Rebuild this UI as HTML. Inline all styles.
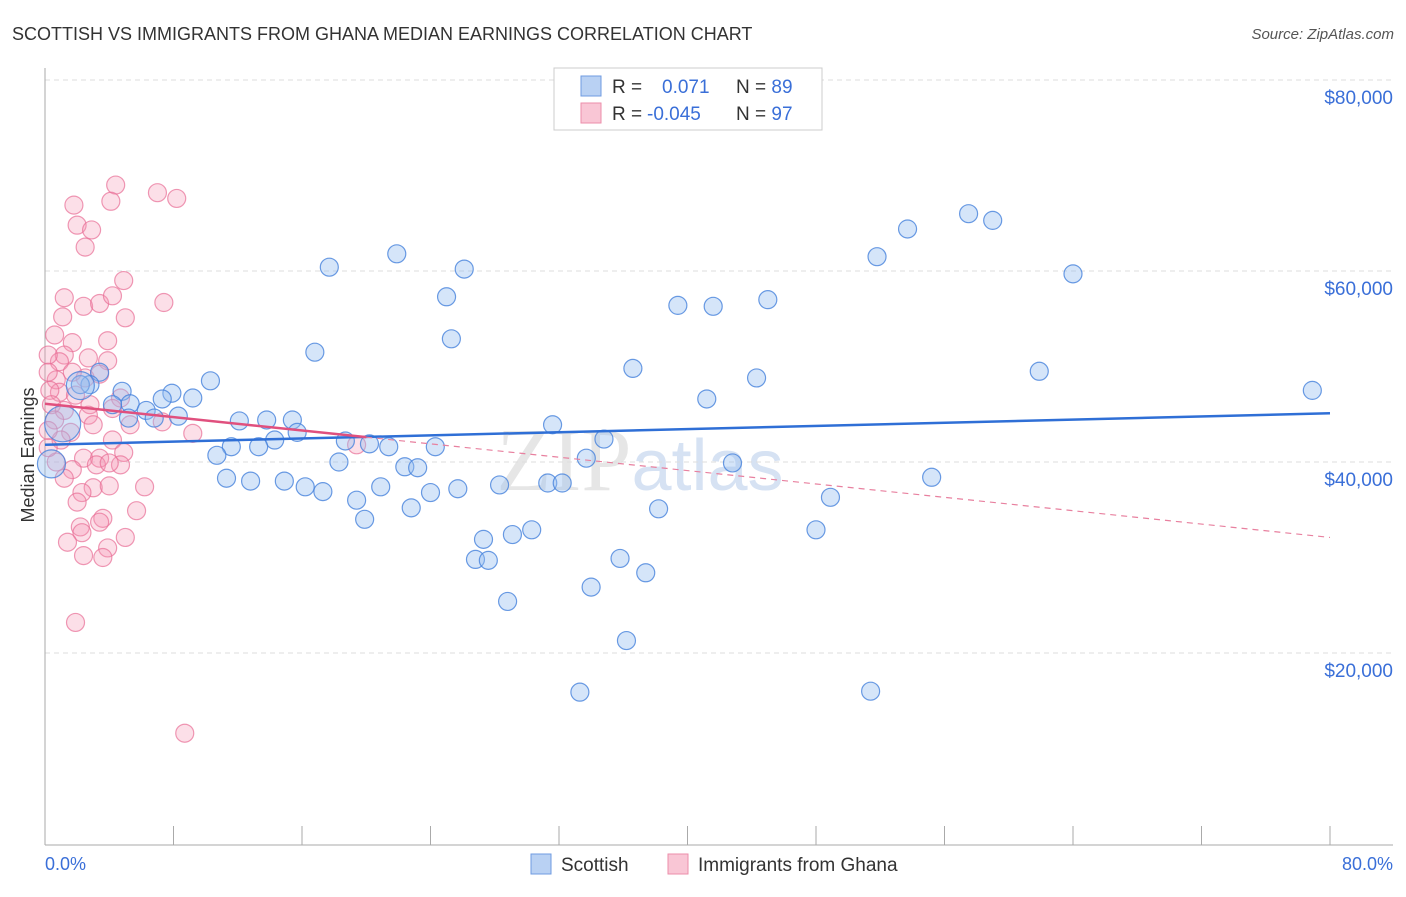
<!DOCTYPE html>
<html><head><meta charset="utf-8"><style>
body{margin:0;background:#fff;font-family:"Liberation Sans",sans-serif}
</style></head><body>
<svg id="c" width="1406" height="892" xmlns="http://www.w3.org/2000/svg">
<text x="12" y="40" font-size="18" fill="#333">SCOTTISH VS IMMIGRANTS FROM GHANA MEDIAN EARNINGS CORRELATION CHART</text>
<text x="1394" y="39" font-size="15" fill="#555" text-anchor="end" font-style="italic">Source: ZipAtlas.com</text>
<text x="640" y="490" font-size="90" fill="#e6e6e6" font-family="Liberation Serif,serif" text-anchor="middle">ZIP<tspan fill="#d6e2f3" font-family="Liberation Sans,sans-serif" font-size="72">atlas</tspan></text>
<g id="grid"></g><g id="axes"></g><g id="pts"></g><g id="trend"></g>
<text x="34" y="455" font-size="18" fill="#333" transform="rotate(-90 34 455)" text-anchor="middle">Median Earnings</text>
<text x="45" y="870" font-size="18" fill="#3a6fd8">0.0%</text>
<text x="1393" y="870" font-size="18" fill="#3a6fd8" text-anchor="end">80.0%</text>
<g>
<rect x="554" y="68" width="268" height="62" fill="#fff" stroke="#ccc"/>
<rect x="581" y="76" width="20" height="20" fill="#b9d1f3" stroke="#6f9be0"/>
<rect x="581" y="103" width="20" height="20" fill="#f9c6d5" stroke="#ec8eaa"/>
<text x="612" y="93" font-size="19" fill="#333">R = <tspan fill="#3a6fd8" x="662">0.071</tspan><tspan x="736" fill="#333">N = </tspan><tspan fill="#3a6fd8">89</tspan></text>
<text x="612" y="120" font-size="19" fill="#333">R = <tspan fill="#3a6fd8" x="647">-0.045</tspan><tspan x="736" fill="#333">N = </tspan><tspan fill="#3a6fd8">97</tspan></text>
</g>
<g>
<rect x="531" y="854" width="20" height="20" fill="#b9d1f3" stroke="#6f9be0"/>
<text x="561" y="871" font-size="19" fill="#333">Scottish</text>
<rect x="668" y="854" width="20" height="20" fill="#f9c6d5" stroke="#ec8eaa"/>
<text x="698" y="871" font-size="19" fill="#333">Immigrants from Ghana</text>
</g>
</svg>
<script>
const yTicks=[20000,40000,60000,80000];
const yTickLabels=["$20,000","$40,000","$60,000","$80,000"];
const xTicks=[0,8,16,24,32,40,48,56,64,72,80];
const blueX=[17.7,21.9,26.1,25.0,25.3,16.8,10.3,7.9,9.2,7.3,4.8,3.4,2.8,2.2,5.3,6.3,4.2,6.8,8.3,5.2,12.1,13.8,15.4,15.7,14.3,11.6,10.7,13.3,18.7,20.2,21.4,24.3,18.3,22.4,23.2,11.3,12.8,14.9,16.2,17.3,20.9,24.0,25.7,28.3,19.4,22.8,19.9,30.3,29.1,27.3,26.8,27.6,28.8,31.6,33.7,34.8,31.3,32.2,35.8,37.4,34.0,36.2,33.3,36.6,39.4,41.6,45.0,41.2,44.3,42.8,38.2,48.9,48.0,51.4,51.8,53.7,57.5,59.0,55.2,61.9,64.0,78.9,1.1,0.4,2.2];
const blueY=[60400,61800,60200,57300,52900,51500,48500,47200,46700,46600,47400,49400,48100,48100,46100,45400,46000,44600,44800,44600,44300,44400,44400,43100,42300,41600,40700,41600,42200,41900,41600,41600,40000,39500,39400,38300,38000,38000,37400,36900,37400,36800,37200,37600,36000,35200,34000,32900,32400,31900,29800,29700,25400,43900,40400,42400,37800,37800,29900,28400,26900,21300,15900,49800,56400,56300,57000,46600,48800,39900,35100,36300,32900,16000,61500,64400,66000,65300,38400,49500,59700,47500,44000,39800,48000];
const blueR=[9,9,9,9,9,9,9,9,9,9,9,9,9,9,9,9,9,9,9,9,9,9,9,9,9,9,9,9,9,9,9,9,9,9,9,9,9,9,9,9,9,9,9,9,9,9,9,9,9,9,9,9,9,9,9,9,9,9,9,9,9,9,9,9,9,9,9,9,9,9,9,9,9,9,9,9,9,9,9,9,9,9,18,14,14];
const pinkX=[4.4,4.1,7.0,8.2,1.8,2.0,2.9,2.5,4.9,1.2,2.4,3.4,4.2,7.4,5.0,1.1,0.6,3.9,1.7,1.2,0.9,2.7,3.9,2.5,1.7,3.4,0.7,0.9,0.3,1.9,2.8,0.4,1.2,4.7,4.2,0.6,2.7,3.0,1.6,1.0,4.2,5.3,9.2,7.3,19.4,2.4,3.4,4.9,3.2,4.7,0.7,1.7,1.2,3.0,4.0,6.2,4.0,2.3,2.0,5.7,3.6,3.4,2.2,2.3,5.0,1.4,3.9,3.6,2.4,1.9,8.7,0.2,0.2,0.2,0.2];
const pinkY=[69000,67300,68200,67600,66900,64800,64300,62500,59000,57200,56300,56600,57400,56700,55100,55200,53300,52700,52500,51200,50500,50900,50600,48800,49400,49200,48600,47300,47500,47000,46000,46000,45400,46700,45600,44400,44900,43900,43100,42300,42300,43900,43000,44200,41800,40400,40400,41000,39700,39700,40000,39200,38300,37300,37500,37400,39900,36800,35800,34900,34100,33700,33200,32600,32100,31600,31000,30000,30200,23200,11600,51200,49400,43300,41500];
const blueTrendX=[0,80], blueTrendY=[41800,45100];
const pinkTrendX=[0,20,80], pinkTrendY=[46100,42600,32100];
const X=p=>45+p/80*1285, Y=v=>844-v/20000*191;
const NS="http://www.w3.org/2000/svg";
function mk(parent,tag,at){const e=document.createElementNS(NS,tag);for(const k in at)e.setAttribute(k,at[k]);document.getElementById(parent).appendChild(e);return e;}
yTicks.forEach((v,i)=>{
 const l=mk('grid','line',{x1:45,x2:1393,y1:Y(v),y2:Y(v),stroke:'#ddd','stroke-dasharray':'5 4'});
 
 
 const t=mk('grid','text',{x:1393,y:Y(v)+24,'font-size':19,fill:'#3a6fd8','text-anchor':'end'});
 t.textContent=yTickLabels[i];
 
 
});
const ya=mk('axes','line',{x1:45,x2:45,y1:68,y2:845,stroke:'#aaa'});


const xa=mk('axes','line',{x1:45,x2:1393,y1:845,y2:845,stroke:'#aaa'});


xTicks.forEach(p=>{
 const t=mk('axes','line',{x1:X(p),x2:X(p),y1:826,y2:845,stroke:'#aaa'});
 
 
});
pinkX.forEach((p,i)=>{
 const c=mk('pts','circle',{cx:X(p),cy:Y(pinkY[i]),r:9,fill:'rgba(244,150,180,0.3)',stroke:'rgba(232,110,150,0.7)','stroke-width':1.2});
 
 
});
blueX.forEach((p,i)=>{
 const c=mk('pts','circle',{cx:X(p),cy:Y(blueY[i]),r:blueR[i],fill:'rgba(150,190,240,0.4)',stroke:'rgba(70,130,220,0.8)','stroke-width':1.2});
 
 
});
const bt=mk('trend','line',{x1:X(blueTrendX[0]),y1:Y(blueTrendY[0]),x2:X(blueTrendX[1]),y2:Y(blueTrendY[1]),stroke:'#2f6fd6','stroke-width':2.5});


const ps=mk('trend','line',{x1:X(pinkTrendX[0]),y1:Y(pinkTrendY[0]),x2:X(pinkTrendX[1]),y2:Y(pinkTrendY[1]),stroke:'#e0507e','stroke-width':2.5});


const pd=mk('trend','line',{x1:X(pinkTrendX[1]),y1:Y(pinkTrendY[1]),x2:X(pinkTrendX[2]),y2:Y(pinkTrendY[2]),stroke:'#e8809f','stroke-width':1.2,'stroke-dasharray':'6 5'});


</script>
</body></html>
